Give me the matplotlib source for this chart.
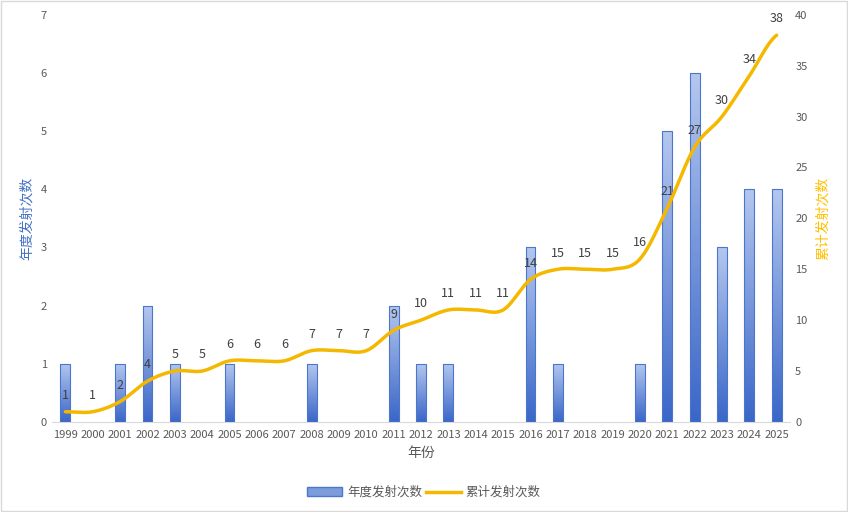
import numpy as np
import matplotlib.pyplot as plt
from matplotlib.patches import Rectangle
from matplotlib.lines import Line2D
from matplotlib.colors import LinearSegmentedColormap

plt.rcParams['font.family'] = ['Noto Sans CJK SC', 'DejaVu Sans']

years = list(range(1999, 2026))
annual = [1, 0, 1, 2, 1, 0, 1, 0, 0, 1, 0, 0, 2, 1, 1, 0, 0, 3, 1, 0, 0, 1, 5, 6, 3, 4, 4]
cumulative = [1, 1, 2, 4, 5, 5, 6, 6, 6, 7, 7, 7, 9, 10, 11, 11, 11, 14, 15, 15, 15, 16, 21, 27, 30, 34, 38]

BAR_W = 0.36
LINE_C = '#F5B800'
BLUE = '#4472C4'


def smooth(x, y, steps=20):
    # Catmull-Rom style smoothing, like Excel's smoothed line
    x = np.asarray(x, float)
    y = np.asarray(y, float)
    px = np.concatenate([[2 * x[0] - x[1]], x, [2 * x[-1] - x[-2]]])
    py = np.concatenate([[y[0]], y, [y[-1]]])
    xs, ys = [], []
    for i in range(1, len(px) - 2):
        t = np.linspace(0, 1, steps, endpoint=False)
        for arr, out in ((px, xs), (py, ys)):
            p0, p1, p2, p3 = arr[i - 1], arr[i], arr[i + 1], arr[i + 2]
            out.extend(0.5 * ((2 * p1) + (-p0 + p2) * t
                              + (2 * p0 - 5 * p1 + 4 * p2 - p3) * t ** 2
                              + (-p0 + 3 * p1 - 3 * p2 + p3) * t ** 3))
    xs.append(x[-1])
    ys.append(y[-1])
    return np.array(xs), np.array(ys)


fig = plt.figure(figsize=(8.48, 5.12), dpi=100)
ax = fig.add_axes([0.061, 0.176, 0.871, 0.795])
ax2 = ax.twinx()

x = np.arange(len(years))
grad = np.linspace(0, 1, 256).reshape(-1, 1)
cmap = LinearSegmentedColormap.from_list('bar', ['#3A66C8', '#B4C7EE'])
for xi, v in zip(x, annual):
    if v <= 0:
        continue
    left = xi - BAR_W / 2
    im = ax.imshow(grad, cmap=cmap, aspect='auto', origin='lower',
                   extent=(left, left + BAR_W, 0, v), zorder=2)
    rect = Rectangle((left, 0), BAR_W, v, facecolor='none',
                     edgecolor='#4A76CC', linewidth=0.8, zorder=3)
    ax.add_patch(rect)
    im.set_clip_path(rect)

ax.set_xlim(-0.5, len(years) - 0.5)
ax.set_ylim(0, 7)
ax.set_yticks(range(0, 8))
ax.set_xticks(x)
ax.set_xticklabels([str(y) for y in years])

sx, sy = smooth(x, cumulative)
ax2.plot(sx, sy, color=LINE_C, linewidth=2.5, zorder=4, solid_capstyle='round')
ax2.set_ylim(0, 40)
ax2.set_yticks(range(0, 41, 5))
for xi, c in zip(x, cumulative):
    ax2.annotate(str(c), (xi, c), xytext=(0, 7), textcoords='offset points',
                 ha='center', va='bottom', fontsize=9, color='#404040')

for a in (ax, ax2):
    for s in a.spines.values():
        s.set_visible(False)
    a.tick_params(length=0, labelsize=8, colors='#595959')
ax.spines['bottom'].set_visible(True)
ax.spines['bottom'].set_color('#D9D9D9')
ax.tick_params(axis='x', pad=6)

ax.set_xlabel('年份', fontsize=10, color='#595959')
ax.set_ylabel('年度发射次数', fontsize=10, color=BLUE, labelpad=5)
ax2.set_ylabel('累计发射次数', fontsize=10, color='#FFC000', labelpad=6)

handles = [Rectangle((0, 0), 1, 1, facecolor='#7C9CDB', edgecolor='#4A76CC'),
           Line2D([0], [0], color=LINE_C, linewidth=2.5)]
fig.legend(handles, ['年度发射次数', '累计发射次数'], loc='center',
           bbox_to_anchor=(0.5, 0.038), ncol=2, frameon=False, fontsize=9,
           labelcolor='#595959', handlelength=2.8, columnspacing=0.3,
           handletextpad=0.4)

fig.patches.append(Rectangle((0.001, 0.001), 0.998, 0.998, transform=fig.transFigure,
                             fill=False, edgecolor='#D9D9D9', linewidth=1))

fig.savefig('out.png', dpi=100)
